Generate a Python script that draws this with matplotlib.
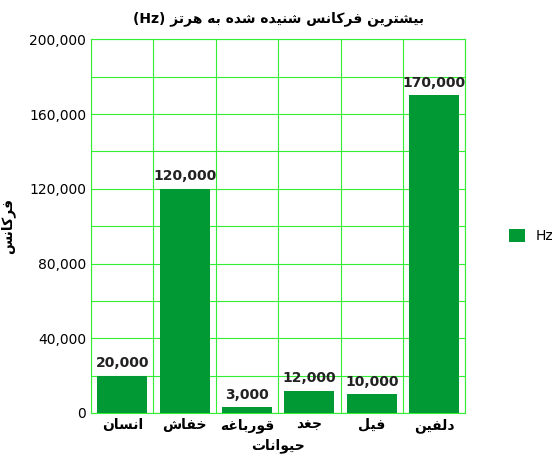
import matplotlib.pyplot as plt
import numpy as np

# Persian shaping table: isolated, final, initial, medial (None = does not join left)
FORMS = {
    'ا': (0xFE8D, 0xFE8E, None, None), 'ب': (0xFE8F, 0xFE90, 0xFE91, 0xFE92),
    'ت': (0xFE95, 0xFE96, 0xFE97, 0xFE98), 'ج': (0xFE9D, 0xFE9E, 0xFE9F, 0xFEA0),
    'ح': (0xFEA1, 0xFEA2, 0xFEA3, 0xFEA4), 'خ': (0xFEA5, 0xFEA6, 0xFEA7, 0xFEA8),
    'د': (0xFEA9, 0xFEAA, None, None), 'ر': (0xFEAD, 0xFEAE, None, None),
    'ز': (0xFEAF, 0xFEB0, None, None), 'س': (0xFEB1, 0xFEB2, 0xFEB3, 0xFEB4),
    'ش': (0xFEB5, 0xFEB6, 0xFEB7, 0xFEB8), 'غ': (0xFECD, 0xFECE, 0xFECF, 0xFED0),
    'ف': (0xFED1, 0xFED2, 0xFED3, 0xFED4), 'ق': (0xFED5, 0xFED6, 0xFED7, 0xFED8),
    'ل': (0xFEDD, 0xFEDE, 0xFEDF, 0xFEE0), 'ن': (0xFEE5, 0xFEE6, 0xFEE7, 0xFEE8),
    'ه': (0xFEE9, 0xFEEA, 0xFEEB, 0xFEEC), 'و': (0xFEED, 0xFEEE, None, None),
    'ی': (0xFBFC, 0xFBFD, 0xFBFE, 0xFBFF), 'ک': (0xFB8E, 0xFB8F, 0xFB90, 0xFB91),
}


def fa(text):
    out = []
    for i, ch in enumerate(text):
        if ch not in FORMS:
            out.append(ch)
            continue
        prev = text[i - 1] if i > 0 else ''
        nxt = text[i + 1] if i + 1 < len(text) else ''
        join_prev = prev in FORMS and FORMS[prev][2] is not None
        join_next = nxt in FORMS and FORMS[ch][2] is not None
        iso, fin, ini, med = FORMS[ch]
        if join_prev and join_next:
            code = med
        elif join_prev:
            code = fin
        elif join_next:
            code = ini
        else:
            code = iso
        out.append(chr(code))
    return ''.join(out)[::-1]


animals = ['انسان', 'خفاش', 'قورباغه', 'جغد', 'فیل', 'دلفین']
hz = [20000, 120000, 3000, 12000, 10000, 170000]

green = '#009933'
grid = '#33ee33'

fig = plt.figure(figsize=(5.52, 4.63), dpi=100)
ax = fig.add_axes([0.165, 0.108, 0.678, 0.807])
x = np.arange(len(animals))
bars = ax.bar(x, hz, width=0.8, color=green, label='Hz', zorder=3)
for b, v in zip(bars, hz):
    ax.text(b.get_x() + b.get_width() / 2, v + 3000, f'{v:,}', ha='center', va='bottom',
            fontsize=10, fontweight='bold', color='#222222')

ax.set_xlim(-0.5, len(animals) - 0.5)
ax.set_ylim(0, 200000)
ax.set_yticks(np.arange(0, 200001, 40000))
ax.set_yticks(np.arange(0, 200001, 20000), minor=True)
ax.yaxis.set_major_formatter(plt.FuncFormatter(lambda v, p: f'{int(v):,}'))
ax.set_xticks(x)
ax.set_xticklabels([fa(a) for a in animals], fontsize=10, fontweight='bold')
ax.set_xticks(np.arange(-0.5, len(animals), 1), minor=True)
ax.grid(True, which='both', color=grid, linewidth=0.8, zorder=0)
ax.grid(False, which='major', axis='x')
ax.tick_params(axis='y', which='both', length=0, labelsize=10)
ax.tick_params(axis='x', which='both', length=0)
for s in ax.spines.values():
    s.set_color(grid)
ax.set_xlabel(fa('حیوانات'), fontsize=10, fontweight='bold')
ax.set_ylabel(fa('فرکانس'), fontsize=10, fontweight='bold', labelpad=10)
ax.set_title('(Hz) ' + fa('بیشترین فرکانس شنیده شده به هرتز'), fontsize=10,
             fontweight='bold', pad=12)

fig.legend(handles=[bars], labels=['Hz'], loc='center left', bbox_to_anchor=(0.9, 0.49),
           frameon=False, fontsize=10, handlelength=1.1, handleheight=1.1)

fig.savefig('out.png', dpi=100)
